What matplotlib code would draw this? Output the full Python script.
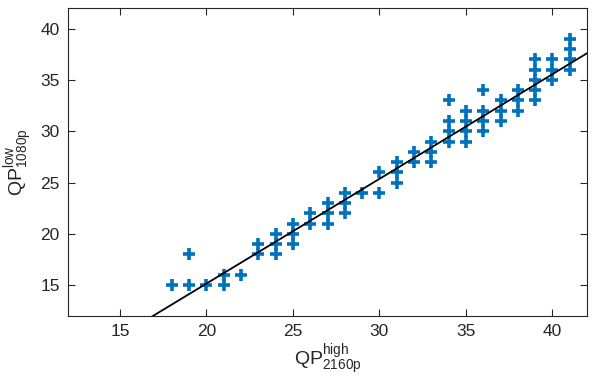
import matplotlib
matplotlib.use("Agg")
import matplotlib.pyplot as plt
import numpy as np

plt.rcParams['font.family'] = ['Liberation Sans', 'DejaVu Sans']
plt.rcParams['mathtext.fontset'] = 'custom'
plt.rcParams['mathtext.rm'] = 'Liberation Sans'
plt.rcParams['mathtext.it'] = 'Liberation Sans'
plt.rcParams['mathtext.bf'] = 'Liberation Sans:bold'

# Data: QP at 2160p (high) vs QP at 1080p (low)
qp_high = [18, 19, 19, 20, 21, 21, 22, 23, 23, 24, 24, 24, 25, 25, 25, 26, 26,
           27, 27, 27, 28, 28, 28, 29, 30, 30, 31, 31, 31, 32, 32, 33, 33, 33,
           34, 34, 34, 34, 35, 35, 35, 35, 36, 36, 36, 36, 37, 37, 37, 38, 38, 38,
           39, 39, 39, 39, 39, 40, 40, 40, 41, 41, 41, 41]
qp_low = [15, 15, 18, 15, 15, 16, 16, 18, 19, 18, 19, 20, 19, 20, 21, 21, 22,
          21, 22, 23, 22, 23, 24, 24, 24, 26, 25, 26, 27, 27, 28, 27, 28, 29,
          29, 30, 31, 33, 29, 30, 31, 32, 30, 31, 32, 34, 31, 32, 33, 32, 33, 34,
          33, 34, 35, 36, 37, 35, 36, 37, 36, 37, 38, 39]

# Fitted line
fit_slope = 1.02
fit_intercept = -5.24
fit_x_range = [12, 42]

x_ticks = [15, 20, 25, 30, 35, 40]
y_ticks = [15, 20, 25, 30, 35, 40]

fig = plt.figure(figsize=(5.98, 3.84), dpi=100)
ax = fig.add_axes([0.1137, 0.177, 0.868, 0.802])

ax.plot(qp_high, qp_low, linestyle='none', marker='+', color='#0072BD',
        markersize=8, markeredgewidth=2.6)
lx = np.array(fit_x_range, dtype=float)
ax.plot(lx, fit_slope * lx + fit_intercept, color='black', linewidth=1.3)

ax.set_xlim(12, 42)
ax.set_ylim(12, 42)
ax.set_xticks(x_ticks)
ax.set_yticks(y_ticks)

edge = '#262626'
for s in ax.spines.values():
    s.set_color(edge)
    s.set_linewidth(0.8)
ax.tick_params(direction='in', top=True, right=True, length=5, width=0.8,
               colors=edge, labelsize=12.5, labelcolor=edge, pad=6)

ax.set_xlabel(r'QP$^{\mathrm{high}}_{\mathrm{2160p}}$', fontsize=14, color=edge, labelpad=2)
ax.set_ylabel(r'QP$^{\mathrm{low}}_{\mathrm{1080p}}$', fontsize=14, color=edge, labelpad=4)

fig.savefig('out.png', dpi=100)
